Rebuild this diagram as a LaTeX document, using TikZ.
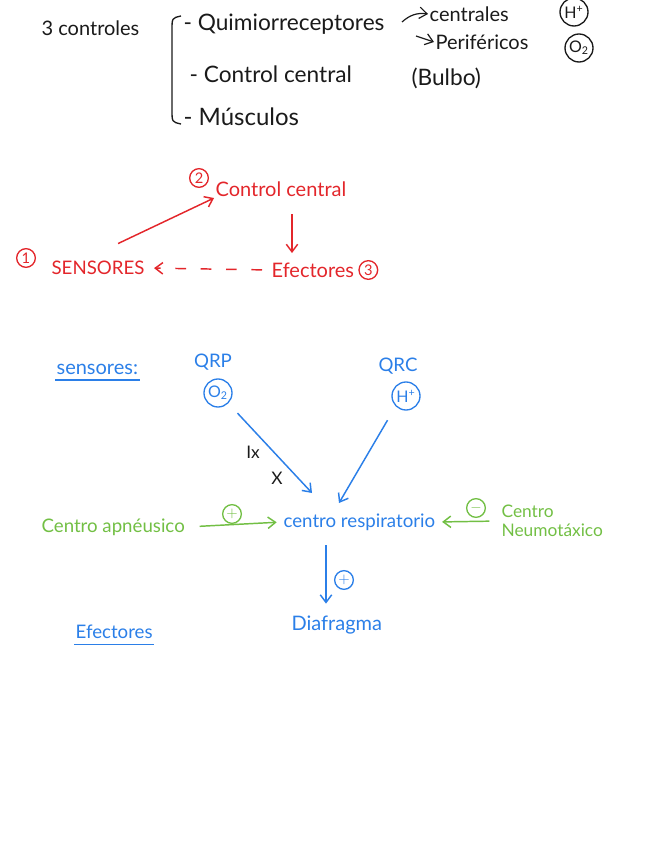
\documentclass[tikz,border=0pt]{standalone}
\usepackage{fontspec}
\setmainfont{Lato}
\usetikzlibrary{arrows.meta,positioning}
\definecolor{redn}{HTML}{E3262B}
\definecolor{bluen}{HTML}{2B7FE8}
\definecolor{greenn}{HTML}{72BF44}
\definecolor{inkn}{HTML}{1A1A1A}
\tikzset{
  txt/.style={font=\fontsize{14}{16}\selectfont,inner sep=1pt,anchor=west},
  big/.style={font=\fontsize{17}{19}\selectfont},
  circ/.style={draw,circle,line width=1pt,inner sep=1pt,minimum size=14pt,font=\fontsize{11}{12}\selectfont},
  bigcirc/.style={circ,minimum size=21pt,font=\fontsize{12}{13}\selectfont},
  ar/.style={-{Straight Barb[length=2mm,width=3mm]},line width=1.1pt}
}
\begin{document}
\begin{tikzpicture}[x=0.75pt,y=-0.75pt]
\useasboundingbox (0,0) rectangle (656,848);
% resumen
\node[txt,inkn,font=\fontsize{15}{17}\selectfont] (tres) at (40,28) {3 controles};
\node[txt,big,inkn] (quim) at (182,24) {- Quimiorreceptores};
\node[txt,inkn,font=\fontsize{15}{17}\selectfont] (cent) at (428,14) {centrales};
\node[txt,inkn,font=\fontsize{15}{17}\selectfont] (peri) at (434,42) {Periféricos};
\node[bigcirc,inkn] (hmas) at (574,12) {H\textsuperscript{+}};
\node[bigcirc,inkn] (otop) at (579,48) {O\textsubscript{2}};
\node[txt,big,inkn] (ccen) at (188,74) {- Control central};
\node[txt,big,inkn] (bulb) at (410,78) {(Bulbo)};
\node[txt,big,inkn,font=\fontsize{18}{20}\selectfont] (musc) at (182,117) {- Músculos};
\draw[inkn,line width=1pt] (181,16) .. controls (172,18) .. (172,30) -- (172,110) .. controls (172,122) .. (181,124);
\coordinate (qa) at (402,22);
\coordinate (pa) at (416,36);
\draw[ar,inkn,line width=0.9pt] (qa) to[bend left=25] (cent.west);
\draw[ar,inkn,line width=0.9pt] (pa) -- (peri.west);

% esquema rojo
\node[circ,redn] (n2) at (199,178) {2};
\node[txt,redn,font=\fontsize{15}{17}\selectfont] (ctrl) at (214,189) {Control central};
\node[circ,redn] (n1) at (26,258) {1};
\node[txt,redn] (sens) at (50,268) {SENSORES};
\node[txt,redn,font=\fontsize{15}{17}\selectfont] (efec) at (270,270) {Efectores};
\node[circ,redn,right=2pt of efec] (n3) {3};
\coordinate (dv) at (292,0);
\draw[ar,redn] ([shift={(-28,-16)}]sens.north east) -- (ctrl.south west);
\draw[ar,redn,shorten <=12pt,shorten >=6pt] (ctrl.south -| dv) -- (efec.north -| dv);
\draw[ar,redn,dash pattern=on 8pt off 11pt,shorten <=6pt,shorten >=6pt] (efec.west) -- (sens.east);

% sensores
\node[txt,bluen,font=\fontsize{15}{17}\selectfont] (sen2) at (55,369) {sensores:};
\draw[bluen,line width=1pt] ([yshift=-3pt]sen2.south west) -- ([yshift=-3pt]sen2.south east);
\node[bluen,font=\fontsize{14}{16}\selectfont] (qrp) at (213,362) {QRP};
\node[bigcirc,bluen] (o2b) at (218,393) {O\textsubscript{2}};
\node[bluen,font=\fontsize{14}{16}\selectfont] (qrc) at (398,366) {QRC};
\node[bigcirc,bluen] (hb) at (406,396) {H\textsuperscript{+}};
\node[txt,bluen] (resp) at (282,522) {centro respiratorio};
\coordinate (qrpin) at (312,493);
\coordinate (qrcin) at (339,503);
\draw[ar,bluen,shorten <=10pt] (o2b.south east) -- (qrpin);
\draw[ar,bluen,shorten <=12pt] (hb.south west) -- (qrcin);
\node[inkn,font=\fontsize{13}{15}\selectfont] (ix) at (253,452) {Ix};
\node[inkn,font=\fontsize{13}{15}\selectfont] (xx) at (277,478) {X};

% centros
\node[txt,greenn] (apn) at (40,527) {Centro apnéusico};
\node[txt,greenn,align=left,font=\fontsize{13}{14}\selectfont] (neu) at (500,521) {Centro\\Neumotáxico};
\node[circ,greenn] (pl1) at (232,514) {$+$};
\node[circ,greenn] (mn1) at (476,508) {$-$};
\draw[ar,greenn,shorten <=10pt,shorten >=4pt] (apn.east) -- (resp.west);
\draw[ar,greenn,shorten <=8pt,shorten >=4pt] (neu.west) -- (resp.east);

% efectores
\node[txt,bluen,font=\fontsize{15}{17}\selectfont] (diaf) at (290,625) {Diafragma};
\node[circ,bluen] (pl2) at (344,580) {$+$};
\coordinate (dvb) at (326,0);
\draw[ar,bluen,shorten <=10pt,shorten >=8pt] (resp.south -| dvb) -- (diaf.north -| dvb);
\node[txt,bluen] (efe2) at (74,632) {Efectores};
\draw[bluen,line width=1pt] ([yshift=-3pt]efe2.south west) -- ([yshift=-3pt]efe2.south east);
\end{tikzpicture}
\end{document}
